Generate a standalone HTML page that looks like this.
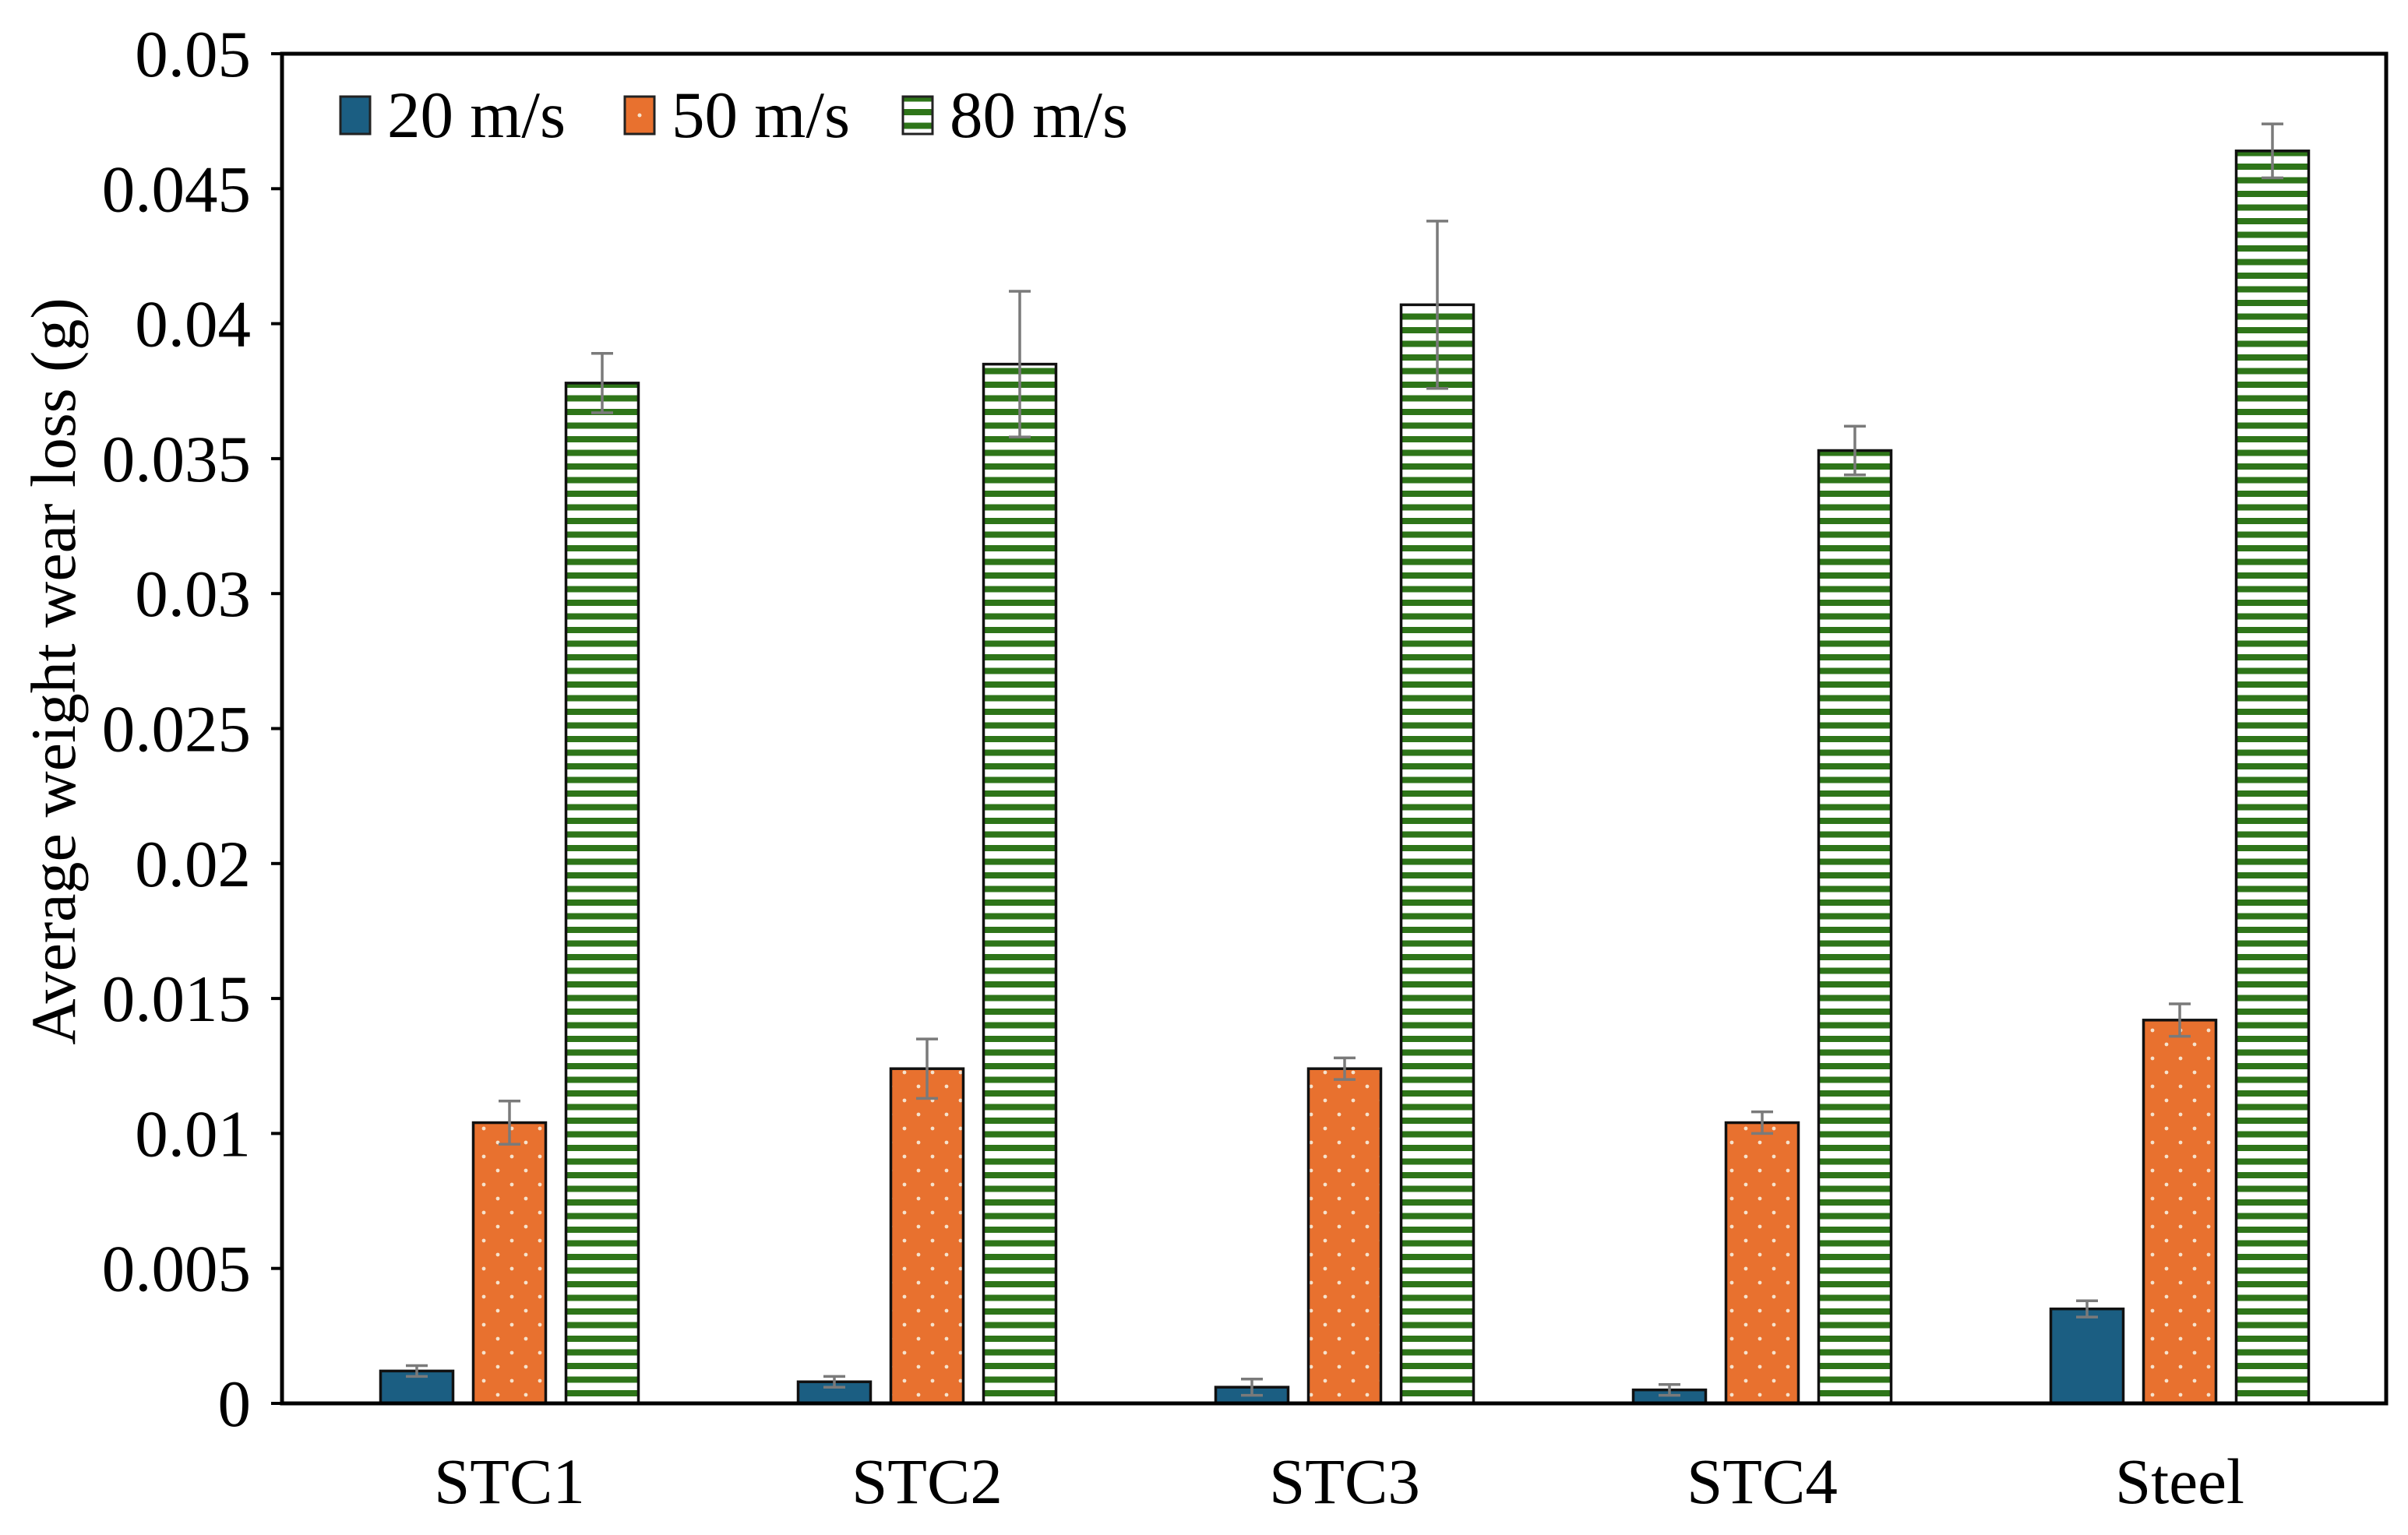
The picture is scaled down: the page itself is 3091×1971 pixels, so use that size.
<!DOCTYPE html>
<html><head><meta charset="utf-8">
<style>html,body{margin:0;padding:0;background:#fff}svg{display:block}</style>
</head><body>
<svg id="chart" width="3091" height="1971" viewBox="0 0 3091 1971" xmlns="http://www.w3.org/2000/svg" font-family="'Liberation Serif', serif">
<defs>
<pattern id="dots" width="36" height="36" patternUnits="userSpaceOnUse">
<rect width="36" height="36" fill="#E8712F"/>
<circle cx="9" cy="9" r="2.4" fill="#f6e2cc"/>
<circle cx="27" cy="27" r="2.4" fill="#f6e2cc"/>
</pattern>
<pattern id="stripes" width="20" height="17.5" patternUnits="userSpaceOnUse">
<rect width="20" height="17.5" fill="#ffffff"/>
<rect y="0" width="20" height="8" fill="#2E7519"/>
</pattern>
</defs>
<g id="plot"></g>
</svg>
<script>
const categories = ["STC1","STC2","STC3","STC4","Steel"];
const seriesNames = ["20 m/s","50 m/s","80 m/s"];
const v20 = [0.0012,0.0008,0.0006,0.0005,0.0035];
const v50 = [0.0104,0.0124,0.0124,0.0104,0.0142];
const v80 = [0.0378,0.0385,0.0407,0.0353,0.0464];
const e20 = [0.0002,0.0002,0.0003,0.0002,0.0003];
const e50 = [0.0008,0.0011,0.0004,0.0004,0.0006];
const e80 = [0.0011,0.0027,0.0031,0.0009,0.0010];
const yTicks = [0,0.005,0.01,0.015,0.02,0.025,0.03,0.035,0.04,0.045,0.05];
const yTickLabels = ["0","0.005","0.01","0.015","0.02","0.025","0.03","0.035","0.04","0.045","0.05"];

const NS="http://www.w3.org/2000/svg";
const g=document.getElementById('plot');
const L=362,R=3063,T=69,B=1802;
const yMax=0.05;
function y(v){return B-(v/yMax)*(B-T);}
function xc(i){return 654+536*i;}
function mk(tag,attrs,parent){const e=document.createElementNS(NS,tag);for(const k in attrs)e.setAttribute(k,attrs[k]);(parent||g).appendChild(e);return e;}

const series=[{v:v20,e:e20,fill:"#1B5E82"},{v:v50,e:e50,fill:"url(#dots)"},{v:v80,e:e80,fill:"url(#stripes)"}];
const bw=93,pitch=119;
series.forEach((s,si)=>{
  s.v.forEach((val,i)=>{
    const x=xc(i)+(si-1)*pitch-bw/2;
    const r=mk('rect',{x:x,y:y(val),width:bw,height:B-y(val),fill:s.fill,stroke:'#111',"stroke-width":3.5});
    
    
  });
});
series.forEach((s,si)=>{
  s.v.forEach((val,i)=>{
    const cx=xc(i)+(si-1)*pitch;
    const eg=mk('g',{stroke:'#7a7a7a',"stroke-width":3.5});
    
    
    const y1=y(val+s.e[i]),y2=y(val-s.e[i]);
    mk('line',{x1:cx,x2:cx,y1:y1,y2:y2},eg);
    mk('line',{x1:cx-14,x2:cx+14,y1:y1,y2:y1},eg);
    mk('line',{x1:cx-14,x2:cx+14,y1:y2,y2:y2},eg);
  });
});
const fr=mk('rect',{x:L,y:T,width:R-L,height:B-T,fill:'none',stroke:'#000',"stroke-width":5});


yTicks.forEach((t,i)=>{
  mk('line',{x1:L-14,x2:L,y1:y(t),y2:y(t),stroke:'#000',"stroke-width":4});
  const tx=mk('text',{x:L-40,y:y(t)+29,"text-anchor":"end","font-size":85,fill:'#000'});
  tx.textContent=yTickLabels[i];
  
  
});
categories.forEach((c,i)=>{
  const tx=mk('text',{x:xc(i),y:1930,"text-anchor":"middle","font-size":83,fill:'#000'});
  tx.textContent=c;
  
  
});
const yt=mk('text',{x:0,y:0,"text-anchor":"middle","font-size":82,fill:'#000',transform:'translate(96,862) rotate(-90)'});
yt.textContent="Average weight wear loss (g)";


const legX=[437,802,1159];
const legFill=["#1B5E82","#E8712F","url(#stripes)"];
seriesNames.forEach((n,i)=>{
  const lg=mk('g',{});
  
  
  mk('rect',{x:legX[i],y:124,width:38,height:48,fill:legFill[i],stroke:'#222',"stroke-width":3},lg);
  if(i===1) mk('circle',{cx:legX[i]+19,cy:148,r:2.5,fill:'#f6e2cc'},lg);
  const t=mk('text',{x:legX[i]+60,y:176,"font-size":85,fill:'#000'},lg);
  t.textContent=n;
});
</script>
</body></html>
